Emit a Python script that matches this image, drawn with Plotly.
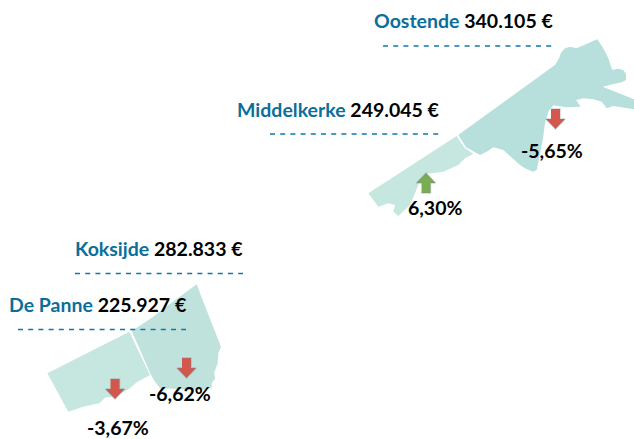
import plotly.graph_objects as go

W, H = 634, 439

# Region outlines (pixel-space map coordinates)
oostende_x = [458.3, 500, 546.7, 555, 559, 561, 565, 570, 576.7, 597.3, 603.3, 608.3, 612.3, 618.3, 623.3, 626, 626, 621.7, 613.3, 602.7, 613.3, 634, 634, 623.3, 613.3, 606.7, 601.7, 593.3, 583.3, 576, 580.7, 566.7, 553.3, 548.3, 545, 542.7, 538.3, 536.7, 532.7, 525, 520, 515, 508.3, 503.3, 493.3, 486.7, 480, 473.3, 466, 458.3]
oostende_y = [135, 105, 71.7, 65, 58.3, 52.7, 48.3, 46.7, 48.3, 39.3, 48.3, 58.3, 70, 68.7, 70, 74, 80, 82.3, 84, 86.7, 91, 99.3, 109.3, 107.3, 106, 108.3, 101.7, 99.3, 98.3, 100, 106.7, 107.3, 105.3, 111.7, 123.3, 140, 163.3, 170, 171.7, 168.3, 165, 160.7, 155, 150, 147.3, 151.7, 155, 151.7, 147.3, 135]
middelkerke_x = [456.7, 464, 473.3, 465, 458.3, 443.3, 425, 420, 415, 410, 398.3, 393.3, 395, 388.3, 378.3, 368.3]
middelkerke_y = [136, 147.3, 154, 158.3, 165, 171.7, 174, 180, 193.3, 205, 216, 211.7, 205, 203.3, 206.7, 193.3]
depanne_x = [47.3, 129.3, 150, 136.7, 130, 123.3, 111.7, 105, 99.3, 90, 83.3, 68.3]
depanne_y = [373.3, 331.7, 375, 382.3, 388.3, 392.3, 396.7, 397.7, 403.3, 405, 406.7, 411.7]
koksijde_x = [131.7, 153.3, 164, 196.7, 203.3, 208.3, 215, 221, 218.3, 217.7, 214, 215.3, 211.7, 211.7, 200, 173.3, 160, 155, 151]
koksijde_y = [331, 316.7, 308.3, 284.3, 301.7, 315, 331.7, 346.7, 353.3, 363.3, 373.3, 378.3, 383.3, 388.3, 390, 389, 388.3, 381.7, 375]

# Labels
names = ["Oostende", "Middelkerke", "Koksijde", "De Panne"]
amounts = ["340.105 €", "249.045 €", "282.833 €", "225.927 €"]
label_right = [555, 442, 245, 189]
label_y = [20, 109, 248, 304]
rule_left = [383, 270, 75, 18]
rule_right = [552, 439, 243, 186]
rule_y = [46, 134, 273.5, 329.5]

# Change figures and arrows
changes = ["-5,65%", "6,30%", "-6,62%", "-3,67%"]
change_x = [552, 435, 180, 118]
change_y = [150, 207, 393, 427]
arrow_x = [555.5, 426, 186.5, 115]
arrow_top = [109, 173, 358, 379]
arrow_dir = ["down", "up", "down", "down"]

OOST = "#b7dfdb"
PALE = "#c6e7df"
KOKS = "#bfe3dc"
BLUE = "#0b6f9b"
RED = "#d4574e"
GREEN = "#78ad54"
FONT = "Lato, Carlito, sans-serif"

fig = go.Figure()

for xs, ys, col in [(oostende_x, oostende_y, OOST), (middelkerke_x, middelkerke_y, PALE),
                    (depanne_x, depanne_y, PALE), (koksijde_x, koksijde_y, KOKS)]:
    fig.add_trace(go.Scatter(x=xs, y=ys, mode="lines", fill="toself", fillcolor=col,
                             line=dict(width=0, color=col), hoverinfo="skip"))

for x0, x1, y in zip(rule_left, rule_right, rule_y):
    fig.add_trace(go.Scatter(x=[x0, x1], y=[y, y], mode="lines",
                             line=dict(color="#0f78ad", width=1.4, dash="5px,5.2px"), hoverinfo="skip"))


def arrow(cx, top, direction):
    if direction == "down":
        return ([cx-4.5, cx+4.5, cx+4.5, cx+9.5, cx, cx-9.5, cx-4.5],
                [top, top, top+10, top+10, top+20, top+10, top+10])
    return ([cx-4.5, cx+4.5, cx+4.5, cx+9.5, cx, cx-9.5, cx-4.5],
            [top+20, top+20, top+10, top+10, top, top+10, top+10])


for cx, top, d in zip(arrow_x, arrow_top, arrow_dir):
    ax, ay = arrow(cx, top, d)
    fig.add_trace(go.Scatter(x=ax, y=ay, mode="lines", fill="toself",
                             fillcolor=RED if d == "down" else GREEN,
                             line=dict(width=1.5, color="rgba(130,130,130,0.35)"), hoverinfo="skip"))

for n, a, x, y in zip(names, amounts, label_right, label_y):
    fig.add_annotation(x=x, y=y, xref="x", yref="y", xanchor="right", yanchor="middle", showarrow=False,
                       text=f"<b><span style='color:{BLUE}'>{n}</span> {a}</b>",
                       font=dict(family=FONT, size=19.5, color="#000000"))

for t, x, y in zip(changes, change_x, change_y):
    fig.add_annotation(x=x, y=y, xref="x", yref="y", xanchor="center", yanchor="middle", showarrow=False,
                       text=f"<b>{t}</b>", font=dict(family=FONT, size=19.5, color="#000000"))

fig.update_layout(width=W, height=H, autosize=False, showlegend=False,
                  margin=dict(l=0, r=0, t=0, b=0), paper_bgcolor="white", plot_bgcolor="white",
                  xaxis=dict(range=[0, W], visible=False, fixedrange=True),
                  yaxis=dict(range=[H, 0], visible=False, fixedrange=True))
fig.write_html("out.html", config={"displayModeBar": False},
               post_script="document.body.style.margin='0';document.documentElement.style.overflow='hidden';")
